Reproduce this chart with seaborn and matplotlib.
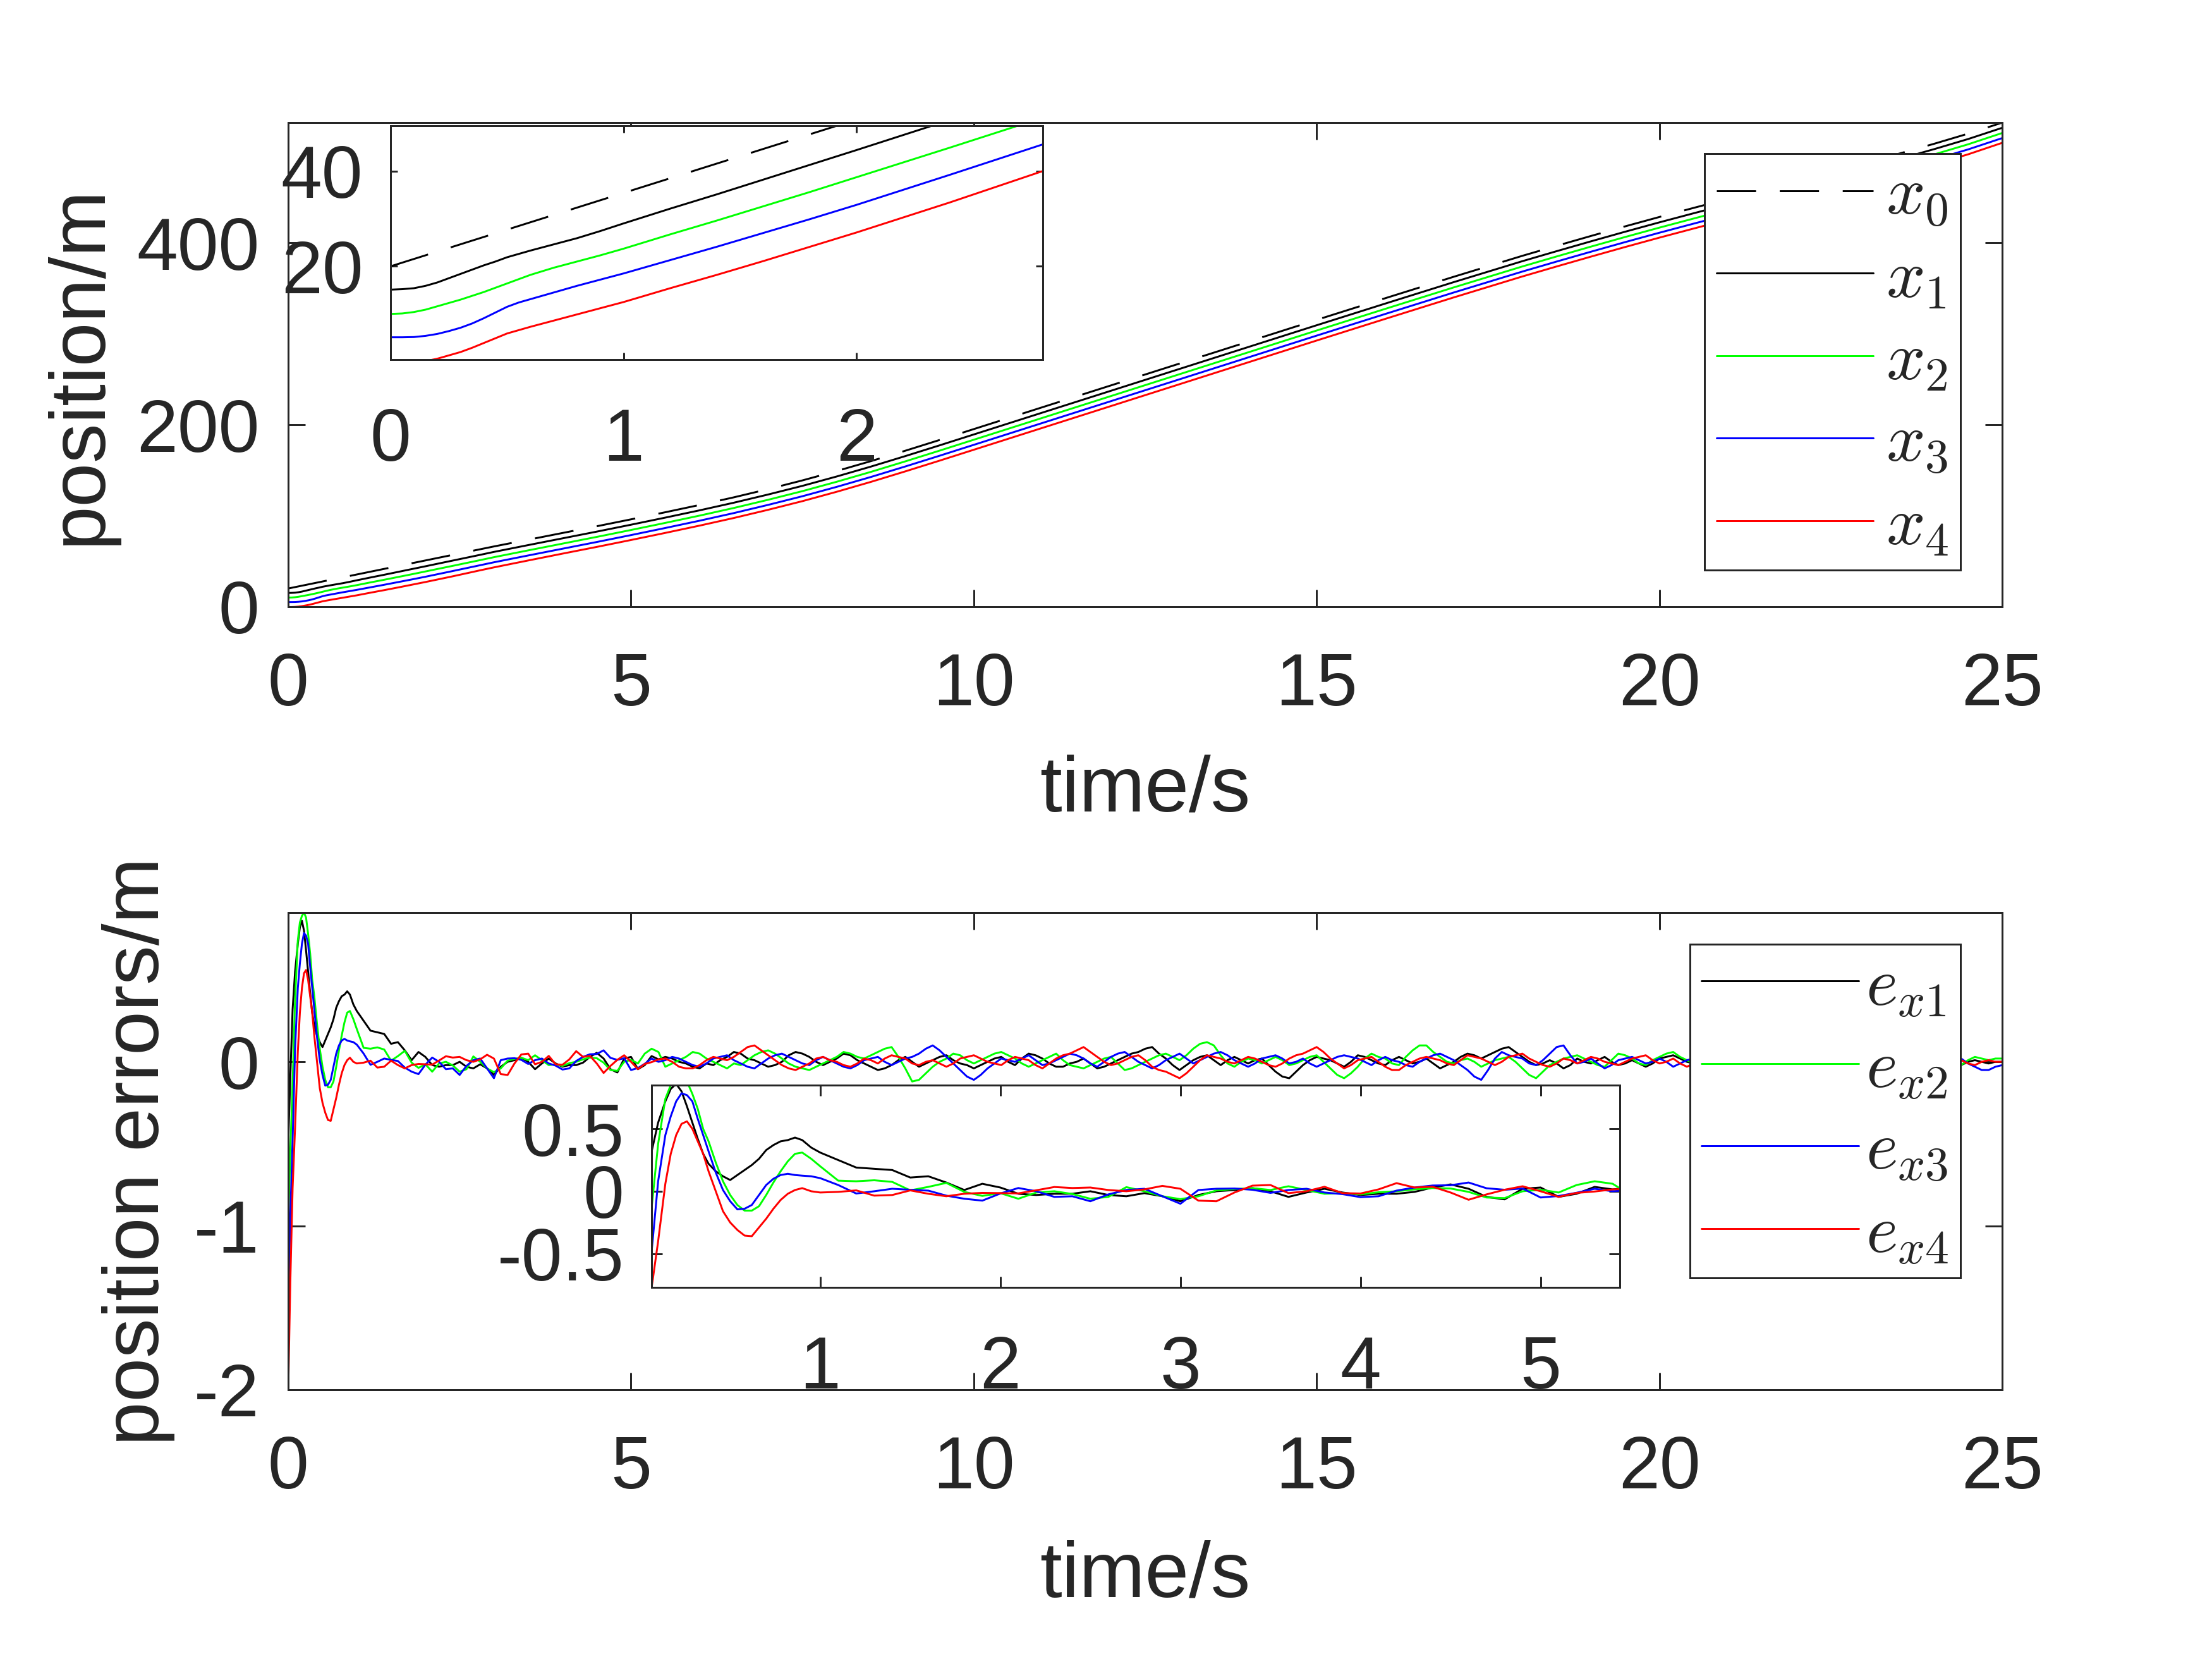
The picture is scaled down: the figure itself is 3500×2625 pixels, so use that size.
import numpy as np
import matplotlib
matplotlib.use('Agg')
import matplotlib.pyplot as plt
import seaborn as sns

sns.set_theme(style='white')
plt.rcParams['font.family'] = ['Liberation Sans', 'DejaVu Sans']
plt.rcParams['mathtext.fontset'] = 'cm'
plt.rcParams['axes.unicode_minus'] = False

# ---- positions ----
t_pos = [0, 0.05, 0.1, 0.15, 0.2, 0.25, 0.3, 0.35, 0.4, 0.45, 0.5, 0.55, 0.6, 0.7, 0.8, 0.9, 1.0,
         1.2, 1.4, 1.6, 1.8, 2.0, 2.4, 2.8, 3.0, 3.5, 4, 4.5, 5, 5.5, 6, 6.5, 7, 7.5, 8, 8.5, 9,
         9.5, 10, 10.5, 11, 11.5, 12, 13, 14, 15, 16, 17, 18, 18.5, 19, 19.5, 20, 20.5, 21, 21.5,
         22, 22.5, 23, 23.5, 24, 24.5, 25]
x0 = [20, 20.77, 21.54, 22.31, 23.08, 23.85, 24.62, 25.39, 26.16, 26.93, 27.7, 28.47, 29.24, 30.78,
      32.32, 33.86, 35.4, 38.48, 41.56, 44.64, 47.72, 50.8, 56.96, 63.12, 66.2, 73.6, 81.0, 88.4, 96.0,
      103.8, 111.8, 120.2, 129.2, 138.8, 149.1, 160.0, 171.4, 183.2, 195.2, 207.2, 219.2, 231.2, 243.2,
      267.2, 291.2, 315.2, 339.0, 362.6, 385.6, 396.6, 407.4, 418.0, 428.3, 438.3, 448.2, 458.0, 467.8,
      477.7, 487.7, 498.0, 508.6, 519.8, 532.0]
x1 = [15.1, 15.2, 15.4, 15.9, 16.6, 17.5, 18.4, 19.3, 20.2, 21.0, 21.9, 22.6, 23.3, 24.6, 25.9, 27.4,
      29.0, 32.1, 35.1, 38.2, 41.3, 44.4, 50.7, 57.0, 60.2, 67.7, 75.1, 82.5, 90.1, 97.9, 105.9, 114.3,
      123.3, 132.8, 143.1, 154.0, 165.5, 177.3, 189.3, 201.3, 213.3, 225.3, 237.3, 261.3, 285.3, 309.3,
      333.1, 356.7, 379.7, 390.7, 401.5, 412.1, 422.4, 432.4, 442.3, 452.1, 461.9, 471.8, 481.8, 492.1,
      502.7, 513.9, 526.3]
x2 = [10.0, 10.1, 10.4, 10.9, 11.6, 12.3, 13.0, 13.8, 14.6, 15.5, 16.4, 17.3, 18.2, 19.7, 21.0, 22.3,
      23.7, 26.7, 29.6, 32.6, 35.6, 38.7, 44.9, 51.2, 54.4, 61.9, 69.3, 76.7, 84.3, 92.1, 100.1, 108.5,
      117.5, 127.0, 137.3, 148.2, 159.7, 171.5, 183.5, 195.5, 207.5, 219.5, 231.5, 255.5, 279.5, 303.5,
      327.3, 350.9, 373.9, 384.9, 395.7, 406.3, 416.6, 426.6, 436.5, 446.3, 456.1, 466.0, 476.0, 486.3,
      496.9, 508.1, 520.6]
x3 = [5.1, 5.1, 5.15, 5.4, 5.8, 6.4, 7.1, 8.0, 9.1, 10.3, 11.5, 12.4, 13.1, 14.5, 15.9, 17.2,
      18.5, 21.3, 24.1, 27.0, 29.9, 32.9, 39.2, 45.6, 48.8, 56.3, 63.7, 71.1, 78.7, 86.5, 94.5, 102.9,
      111.9, 121.4, 131.7, 142.6, 154.1, 165.9, 177.9, 189.9, 201.9, 213.9, 225.9, 249.9, 273.9, 297.9,
      321.7, 345.3, 368.3, 379.3, 390.1, 400.7, 411.0, 421.0, 430.9, 440.7, 450.5, 460.4, 470.4, 480.7,
      491.3, 502.5, 515.0]
x4 = [-0.4, -0.35, -0.2, 0.1, 0.6, 1.3, 2.0, 2.9, 3.9, 4.9, 5.9, 6.6, 7.3, 8.6, 9.9, 11.2,
      12.5, 15.4, 18.2, 21.1, 24.1, 27.1, 33.4, 40.0, 43.2, 50.8, 58.3, 65.7, 73.3, 81.1, 89.1, 97.5,
      106.5, 116.0, 126.3, 137.2, 148.7, 160.5, 172.5, 184.5, 196.5, 208.5, 220.5, 244.5, 268.5, 292.5,
      316.3, 339.9, 362.9, 373.9, 384.7, 395.3, 405.6, 415.6, 425.5, 435.3, 445.1, 455.0, 465.0, 475.3,
      485.9, 497.1, 509.8]

# ---- position errors ----
t_err_early = [0, 0.03, 0.064, 0.1, 0.14, 0.17, 0.2, 0.23, 0.26, 0.29, 0.32, 0.35, 0.38, 0.42,
               0.46, 0.5, 0.54, 0.58, 0.62, 0.66, 0.7, 0.74, 0.78, 0.82, 0.86, 0.9, 0.95, 1.0]
t_err = np.concatenate([t_err_early,
                        np.round(np.arange(1.1, 5.45, 0.1), 2),
                        np.round(np.arange(5.5, 25.001, 0.1), 2)])

e1 = [-0.5, -0.1, 0.32, 0.55, 0.72, 0.82, 0.86, 0.80, 0.68, 0.55, 0.42, 0.30, 0.22, 0.16,
      0.12, 0.09, 0.13, 0.17, 0.21, 0.26, 0.33, 0.37, 0.40, 0.41, 0.43, 0.41, 0.35, 0.31,
      0.25, 0.19, 0.18, 0.17, 0.11, 0.12, 0.07, 0.01, 0.06, 0.03,
      -0.02, -0.03, -0.02, -0.02, 0.0, -0.03, -0.04, -0.015, -0.04, -0.08,
      -0.03, 0.0, 0.01, 0.025, 0.0, -0.045, -0.01, 0.02, -0.01, -0.03,
      -0.02, -0.02, -0.005, 0.03, 0.055, 0.02, -0.045, -0.065, 0.02, 0.03,
      -0.045, -0.02, 0.035, 0.015,
      0.03, 0.02, 0.00, -0.01, -0.03, -0.04, -0.01, -0.02, 0.01, 0.03,
      0.06, 0.05, 0.02, 0.01, -0.01, -0.03, -0.02, 0.00, 0.04, 0.06,
      0.05, 0.03, 0.00, -0.02, 0.00, 0.02, 0.05, 0.04, 0.01, -0.01,
      -0.03, -0.05, -0.04, -0.02, 0.01, 0.03, 0.00, -0.03, -0.01, 0.01,
      0.03, 0.04, 0.01, -0.01, -0.02, -0.04, -0.02, 0.00, 0.02, 0.03,
      0.00, -0.02, 0.02, 0.05, 0.04, 0.02, -0.01, -0.03, -0.03, -0.01,
      0.00, 0.02, -0.01, -0.04, -0.03, -0.01, 0.01, 0.03, 0.05, 0.06,
      0.08, 0.09, 0.05, 0.02, -0.02, -0.05, -0.02, 0.01, 0.03, 0.04,
      0.01, -0.02, 0.01, 0.03, 0.01, -0.01, 0.01, 0.02, -0.02, -0.06,
      -0.09, -0.10, -0.06, -0.02, 0.01, 0.03, 0.02, 0.01, -0.01, -0.03,
      0.00, 0.04, 0.03, 0.01, -0.01, -0.02, 0.01, 0.03, 0.01, -0.01,
      0.00, 0.02, -0.01, -0.04, -0.02, 0.00, 0.03, 0.05, 0.04, 0.02,
      0.04, 0.06, 0.08, 0.09, 0.06, 0.03, 0.00, -0.02, -0.01, 0.01,
      -0.01, -0.04, -0.02, 0.02, 0.00, -0.01, 0.01, 0.03, 0.00, -0.02,
      -0.01, 0.01, -0.01, -0.03, -0.01, 0.02, 0.03, 0.04, 0.02, 0.00,
      -0.01, -0.02, 0.00, 0.03, 0.01, -0.01, 0.00, 0.02, 0.01, 0.00,
      -0.02, -0.03, -0.01, 0.01, 0.02, 0.03, 0.00, -0.02, -0.01, 0.00,
      0.01, 0.02, 0.00, -0.01, 0.01, 0.03, 0.01, -0.02, -0.01, 0.01,
      0.02, 0.02, 0.00, -0.01, 0.01, 0.03, 0.01, 0.00, -0.01, -0.02,
      0.00, 0.01, 0.00, -0.01, 0.00, 0.00]
e2 = [-1.0, -0.55, -0.13, 0.38, 0.74, 0.85, 0.89, 0.91, 0.88, 0.78, 0.66, 0.50, 0.40, 0.23,
      0.08, -0.03, -0.11, -0.155, -0.155, -0.12, -0.03, 0.07, 0.16, 0.24, 0.30, 0.31, 0.26, 0.20,
      0.085, 0.08, 0.088, 0.075, 0.007, 0.035, 0.067, -0.005, -0.037, -0.015,
      -0.06, -0.01, 0.0, -0.022, -0.06, -0.045, 0.033, 0.0, -0.04, -0.063,
      -0.04, 0.007, 0.018, 0.025, 0.01, 0.04, 0.01, -0.02, -0.015, -0.025,
      -0.008, 0.0, 0.015, 0.026, 0.022, -0.005, -0.05, -0.055, 0.0, 0.012,
      -0.01, 0.05, 0.08, 0.06,
      -0.03, -0.01, 0.01, 0.03, 0.06, 0.05, 0.02, 0.00, -0.02, -0.04,
      -0.01, -0.02, 0.01, 0.04, 0.06, 0.07, 0.05, 0.02, -0.01, -0.03,
      -0.04, -0.05, -0.03, -0.01, 0.01, 0.03, 0.06, 0.05, 0.03, 0.02,
      0.04, 0.06, 0.08, 0.09, 0.03, -0.04, -0.12, -0.11, -0.07, -0.03,
      0.00, 0.02, 0.05, 0.04, 0.01, -0.01, 0.01, 0.03, 0.05, 0.06,
      0.04, 0.02, -0.01, -0.03, -0.01, 0.01, 0.03, 0.05, 0.01, -0.02,
      -0.03, -0.04, -0.02, 0.00, 0.02, 0.03, -0.01, -0.05, -0.04, -0.02,
      0.00, 0.02, 0.04, 0.05, 0.03, 0.01, 0.04, 0.08, 0.11, 0.12,
      0.10, 0.04, -0.01, -0.03, 0.00, 0.02, 0.01, -0.01, 0.01, 0.03,
      0.01, -0.02, -0.01, 0.01, 0.03, 0.04, 0.00, -0.04, -0.08, -0.10,
      -0.07, -0.03, 0.02, 0.05, 0.03, 0.02, -0.01, -0.02, 0.03, 0.07,
      0.10, 0.10, 0.06, 0.03, 0.00, -0.01, 0.01, 0.02, 0.00, -0.03,
      -0.01, 0.01, 0.02, 0.03, 0.00, -0.04, -0.08, -0.10, -0.06, -0.02,
      0.00, 0.02, 0.03, 0.04, 0.02, 0.00, -0.02, -0.03, 0.01, 0.05,
      0.04, 0.02, -0.01, -0.02, 0.01, 0.03, 0.05, 0.06, 0.03, 0.01,
      -0.01, -0.03, 0.00, 0.02, 0.03, 0.04, 0.01, -0.01, 0.01, 0.02,
      0.02, 0.03, 0.00, -0.02, 0.00, 0.01, 0.03, 0.04, 0.01, -0.01,
      0.01, 0.02, 0.01, 0.00, -0.02, -0.03, 0.00, 0.02, 0.03, 0.03,
      0.01, -0.01, 0.00, 0.02, 0.03, 0.04, 0.02, 0.01, -0.01, -0.02,
      0.01, 0.03, 0.02, 0.01, 0.02, 0.02]
e3 = [-1.5, -0.95, -0.48, 0.08, 0.45, 0.60, 0.72, 0.785, 0.77, 0.72, 0.58, 0.45, 0.32, 0.15,
      0.01, -0.08, -0.145, -0.14, -0.11, -0.03, 0.05, 0.10, 0.13, 0.14, 0.13, 0.125, 0.12, 0.105,
      0.05, -0.018, 0.0, 0.02, 0.012, 0.005, -0.035, -0.06, -0.075, -0.018,
      0.026, 0.0, -0.045, -0.04, -0.08, -0.025, 0.01, 0.02, -0.04, -0.1,
      0.01, 0.02, 0.022, 0.012, -0.013, 0.01, 0.02, -0.01, -0.023, -0.047,
      -0.04, 0.005, 0.03, 0.046, 0.048, 0.07, 0.024, 0.012, 0.022, -0.05,
      -0.038, -0.012, 0.02, 0.0,
      0.01, 0.03, 0.02, 0.00, -0.02, -0.03, -0.01, 0.02, 0.03, 0.04,
      0.01, -0.01, -0.03, -0.04, -0.01, 0.02, 0.04, 0.05, 0.03, 0.01,
      -0.01, -0.02, 0.01, 0.03, 0.01, -0.01, -0.03, -0.04, -0.02, 0.01,
      0.02, 0.03, 0.00, -0.02, 0.00, 0.02, 0.03, 0.05, 0.08, 0.10,
      0.07, 0.03, -0.01, -0.05, -0.09, -0.11, -0.08, -0.04, -0.01, 0.02,
      0.01, 0.00, 0.02, 0.04, 0.01, -0.02, -0.01, 0.01, 0.03, 0.05,
      0.04, 0.02, -0.01, -0.03, 0.00, 0.03, 0.05, 0.06, 0.03, 0.00,
      -0.02, -0.04, -0.02, 0.01, 0.03, 0.05, 0.02, -0.01, 0.01, 0.03,
      0.05, 0.06, 0.04, 0.01, -0.01, -0.03, -0.01, 0.02, 0.03, 0.04,
      0.02, -0.01, 0.00, 0.02, -0.01, -0.03, -0.01, 0.01, 0.03, 0.04,
      0.03, 0.02, 0.00, -0.02, 0.01, 0.03, 0.01, 0.00, -0.02, -0.03,
      0.00, 0.02, 0.04, 0.05, 0.03, 0.01, -0.02, -0.05, -0.09, -0.11,
      -0.05, 0.02, 0.06, 0.04, 0.03, 0.02, -0.01, -0.02, 0.01, 0.05,
      0.09, 0.10, 0.04, -0.01, 0.00, 0.02, -0.01, -0.04, -0.02, 0.01,
      0.02, 0.03, 0.01, -0.01, 0.00, 0.02, 0.00, -0.03, -0.01, 0.01,
      0.02, 0.04, 0.02, 0.00, -0.01, -0.02, 0.01, 0.03, 0.02, 0.01,
      0.00, -0.01, 0.00, 0.02, 0.03, 0.04, 0.03, 0.01, -0.01, -0.02,
      -0.01, 0.00, 0.02, 0.03, 0.02, 0.01, -0.01, -0.02, 0.00, 0.02,
      0.01, 0.00, 0.02, 0.03, 0.04, 0.05, 0.07, 0.08, 0.05, 0.02,
      -0.01, -0.03, -0.05, -0.05, -0.03, -0.02]
e4 = [-2.0, -1.35, -0.77, -0.40, 0.06, 0.30, 0.45, 0.54, 0.56, 0.50, 0.40, 0.30, 0.16, 0.0,
      -0.16, -0.25, -0.31, -0.355, -0.36, -0.29, -0.22, -0.14, -0.07, -0.02, 0.01, 0.025, 0.0, -0.01,
      -0.005, 0.007, -0.035, -0.03, 0.007, -0.02, -0.04, -0.02, -0.013, -0.015,
      -0.017, 0.008, 0.034, 0.026, 0.03, 0.01, 0.0, 0.015, 0.043, 0.02,
      -0.075, -0.08, -0.01, 0.045, 0.05, -0.015, 0.0, 0.036, -0.015, -0.018,
      0.015, 0.065, 0.03, 0.036, -0.01, -0.068, -0.025, 0.012, 0.04, 0.0,
      -0.045, -0.013, -0.002, 0.015,
      0.02, 0.00, -0.03, -0.04, -0.04, -0.02, 0.01, 0.03, 0.02, 0.01,
      0.03, 0.06, 0.09, 0.10, 0.07, 0.04, 0.01, -0.02, -0.04, -0.05,
      -0.03, -0.01, 0.02, 0.03, 0.01, 0.00, -0.02, -0.03, -0.01, 0.02,
      0.01, -0.01, 0.02, 0.04, 0.03, 0.02, -0.01, -0.02, 0.00, 0.01,
      -0.01, -0.03, -0.01, 0.02, 0.03, 0.04, 0.02, 0.00, -0.01, -0.02,
      0.01, 0.03, 0.02, 0.01, -0.02, -0.04, -0.01, 0.02, 0.04, 0.05,
      0.07, 0.09, 0.06, 0.03, 0.00, -0.02, -0.01, 0.01, 0.03, 0.04,
      0.01, -0.03, -0.05, -0.06, -0.08, -0.10, -0.07, -0.03, 0.01, 0.04,
      0.03, 0.02, 0.00, -0.01, 0.01, 0.03, 0.02, 0.00, -0.02, -0.03,
      -0.01, 0.02, 0.04, 0.05, 0.07, 0.09, 0.06, 0.02, -0.01, -0.04,
      -0.02, 0.01, 0.02, 0.03, 0.00, -0.03, -0.05, -0.05, -0.02, 0.00,
      0.02, 0.03, 0.02, 0.01, -0.01, -0.02, 0.01, 0.04, 0.03, 0.02,
      0.00, -0.02, 0.00, 0.03, 0.04, 0.05, 0.02, 0.00, -0.02, -0.03,
      -0.01, 0.02, 0.01, -0.01, 0.01, 0.03, 0.02, 0.00, -0.01, -0.02,
      0.00, 0.02, 0.03, 0.04, 0.01, -0.01, 0.00, 0.02, -0.01, -0.03,
      -0.01, 0.01, 0.02, 0.03, 0.01, 0.00, -0.01, -0.02, 0.00, 0.02,
      0.02, 0.01, -0.01, -0.02, 0.00, 0.02, 0.03, 0.04, 0.02, 0.00,
      -0.01, -0.01, 0.01, 0.02, 0.00, -0.02, -0.01, 0.01, 0.02, 0.03,
      0.03, 0.02, 0.00, -0.01, 0.01, 0.03, 0.04, 0.04, 0.02, 0.01,
      -0.01, -0.02, 0.00, 0.01, 0.00, 0.00]

pos_labels = [r'$x_0$', r'$x_1$', r'$x_2$', r'$x_3$', r'$x_4$']
err_labels = [r'$e_{x1}$', r'$e_{x2}$', r'$e_{x3}$', r'$e_{x4}$']
main_xticks = [0, 5, 10, 15, 20, 25]
pos_yticks = [0, 200, 400]
err_yticks = [-2, -1, 0]
err_yticklabels = ['-2', '-1', '0']
ins1_xticks = [0, 1, 2]
ins1_yticks = [20, 40]
ins2_xticks = [1, 2, 3, 4, 5]
ins2_yticks = [-0.5, 0, 0.5]
ins2_yticklabels = ['-0.5', '0', '0.5']

DARK = '#262626'
LW = 0.72
colors = ['black', (0, 1, 0), (0, 0, 1), (1, 0, 0)]


def style(ax, ticklen, xpad, ypad):
    ax.set_facecolor('white')
    ax.grid(False)
    for s in ax.spines.values():
        s.set_visible(True)
        s.set_color(DARK)
        s.set_linewidth(LW)
    ax.tick_params(direction='in', top=True, right=True, bottom=True, left=True,
                   length=ticklen, width=LW, color=DARK, labelcolor=DARK, labelsize=28)
    ax.tick_params(axis='x', pad=xpad)
    ax.tick_params(axis='y', pad=ypad)


def draw_positions(ax):
    sns.lineplot(x=t_pos, y=x0, ax=ax, color='black', linewidth=LW, estimator=None, sort=False)
    ax.lines[-1].set_dashes([20.7, 12.5])
    for ys, c in zip([x1, x2, x3, x4], colors):
        sns.lineplot(x=t_pos, y=ys, ax=ax, color=c, linewidth=LW, estimator=None, sort=False)


def draw_errors(ax):
    for ys, c in zip([e1, e2, e3, e4], colors):
        sns.lineplot(x=t_err, y=ys, ax=ax, color=c, linewidth=LW, estimator=None, sort=False)


def make_legend(ax, handles, labels, anchor, textpad):
    leg = ax.legend(handles=handles, labels=labels, loc='upper right', bbox_to_anchor=anchor,
                    borderaxespad=0, fontsize=26, fancybox=False, framealpha=1, edgecolor=DARK,
                    borderpad=0.17, labelspacing=0.28, handlelength=2.29, handletextpad=textpad)
    leg.get_frame().set_linewidth(LW)
    return leg


fig = plt.figure(figsize=(3500 / 300, 2625 / 300), dpi=300)
fig.patch.set_facecolor('white')

# top: positions
ax1 = fig.add_axes([0.1303, 0.6343, 0.7749, 0.2918])
draw_positions(ax1)
ax1.set_xlim(0, 25)
ax1.set_ylim(0, 532)
ax1.set_xticks(main_xticks)
ax1.set_yticks(pos_yticks)
style(ax1, 6.5, 17, 11)
ax1.set_xlabel('time/s', fontsize=30, color=DARK)
ax1.set_ylabel('position/m', fontsize=30, color=DARK)
ax1.xaxis.set_label_coords(0.5, -0.305)
ax1.yaxis.set_label_coords(-0.100, 0.5)
make_legend(ax1, ax1.lines[:5], pos_labels, (0.9757, 0.936), 0.19)

# top inset
ins1 = fig.add_axes([0.1766, 0.7832, 0.2949, 0.1410])
draw_positions(ins1)
ins1.set_xlim(0, 2.8)
ins1.set_ylim(0.4, 49.5)
ins1.set_xticks(ins1_xticks)
ins1.set_yticks(ins1_yticks)
style(ins1, 2.7, 18, 10.5)
ins1.set_xlabel('')
ins1.set_ylabel('')
if ins1.get_legend():
    ins1.get_legend().remove()

# bottom: errors
ax2 = fig.add_axes([0.1303, 0.1623, 0.7749, 0.2876])
draw_errors(ax2)
ax2.set_xlim(0, 25)
ax2.set_ylim(-2, 0.91)
ax2.set_xticks(main_xticks)
ax2.set_yticks(err_yticks)
ax2.set_yticklabels(err_yticklabels)
style(ax2, 6.5, 17, 11)
ax2.set_xlabel('time/s', fontsize=30, color=DARK)
ax2.set_ylabel('position errors/m', fontsize=30, color=DARK)
ax2.xaxis.set_label_coords(0.5, -0.314)
ax2.yaxis.set_label_coords(-0.066, 0.5)
make_legend(ax2, ax2.lines[:4], err_labels, (0.9757, 0.934), 0.11)

# bottom inset
ins2 = fig.add_axes([0.2946, 0.2240, 0.4377, 0.1219])
draw_errors(ins2)
ins2.set_xlim(0.064, 5.44)
ins2.set_ylim(-0.77, 0.85)
ins2.set_xticks(ins2_xticks)
ins2.set_yticks(ins2_yticks)
ins2.set_yticklabels(ins2_yticklabels)
style(ins2, 4.1, 18, 10.5)
ins2.set_xlabel('')
ins2.set_ylabel('')
if ins2.get_legend():
    ins2.get_legend().remove()

fig.savefig('out.png', dpi=300, facecolor='white')
